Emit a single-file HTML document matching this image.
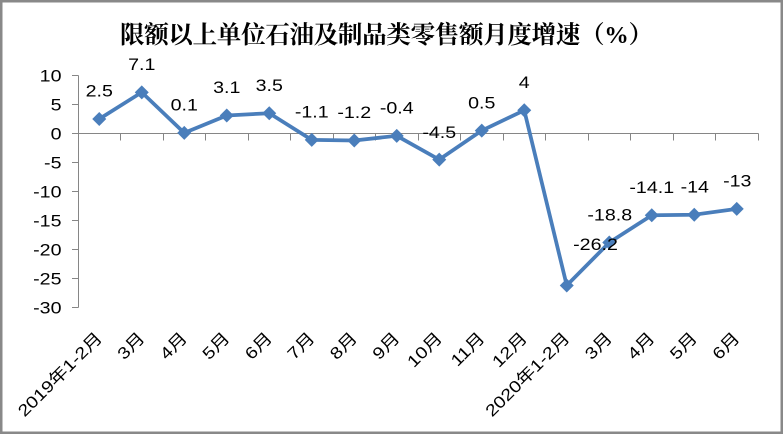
<!DOCTYPE html>
<html>
<head>
<meta charset="utf-8">
<style>
html,body{margin:0;padding:0;background:#fff;}
svg{display:block;}
.t{font-family:"Liberation Serif","Noto Serif CJK SC",serif;font-size:24.5px;font-weight:bold;fill:#000;}
.l{font-family:"Liberation Sans","Noto Sans CJK SC",sans-serif;font-size:16.5px;fill:#000;}
</style>
</head>
<body>
<svg width="783" height="434" viewBox="0 0 783 434" xmlns="http://www.w3.org/2000/svg">
<rect x="0" y="0" width="783" height="434" fill="#fff"/>
<rect x="1.25" y="1.25" width="780.5" height="431.5" fill="none" stroke="#898989" stroke-width="2.5"/>

<text class="t" x="120" y="43" textLength="533" lengthAdjust="spacing">限额以上单位石油及制品类零售额月度增速（%）</text>

<!-- axes -->
<g stroke="#868686" stroke-width="1" fill="none">
<line x1="78.5" y1="75.5" x2="78.5" y2="307.5"/>
<line x1="72" y1="75.5" x2="78.5" y2="75.5"/>
<line x1="72" y1="104.5" x2="78.5" y2="104.5"/>
<line x1="72" y1="133.5" x2="78.5" y2="133.5"/>
<line x1="72" y1="162.5" x2="78.5" y2="162.5"/>
<line x1="72" y1="191.5" x2="78.5" y2="191.5"/>
<line x1="72" y1="220.5" x2="78.5" y2="220.5"/>
<line x1="72" y1="249.5" x2="78.5" y2="249.5"/>
<line x1="72" y1="278.5" x2="78.5" y2="278.5"/>
<line x1="72" y1="307.5" x2="78.5" y2="307.5"/>
<line x1="78" y1="133.5" x2="758.5" y2="133.5"/>
<line x1="78.5" y1="133.5" x2="78.5" y2="140.5"/>
<line x1="120.5" y1="133.5" x2="120.5" y2="140.5"/>
<line x1="163.5" y1="133.5" x2="163.5" y2="140.5"/>
<line x1="205.5" y1="133.5" x2="205.5" y2="140.5"/>
<line x1="248.5" y1="133.5" x2="248.5" y2="140.5"/>
<line x1="290.5" y1="133.5" x2="290.5" y2="140.5"/>
<line x1="333.5" y1="133.5" x2="333.5" y2="140.5"/>
<line x1="375.5" y1="133.5" x2="375.5" y2="140.5"/>
<line x1="418.5" y1="133.5" x2="418.5" y2="140.5"/>
<line x1="460.5" y1="133.5" x2="460.5" y2="140.5"/>
<line x1="503.5" y1="133.5" x2="503.5" y2="140.5"/>
<line x1="545.5" y1="133.5" x2="545.5" y2="140.5"/>
<line x1="588.5" y1="133.5" x2="588.5" y2="140.5"/>
<line x1="630.5" y1="133.5" x2="630.5" y2="140.5"/>
<line x1="673.5" y1="133.5" x2="673.5" y2="140.5"/>
<line x1="715.5" y1="133.5" x2="715.5" y2="140.5"/>
<line x1="758.5" y1="133.5" x2="758.5" y2="140.5"/>
</g>

<!-- y labels -->
<g class="l" text-anchor="end">
<text class="l" transform="translate(61.5,81.5) scale(1.19,1)">10</text>
<text class="l" transform="translate(61.5,110.5) scale(1.19,1)">5</text>
<text class="l" transform="translate(61.5,139.5) scale(1.19,1)">0</text>
<text class="l" transform="translate(61.5,168.5) scale(1.19,1)">-5</text>
<text class="l" transform="translate(61.5,197.5) scale(1.19,1)">-10</text>
<text class="l" transform="translate(61.5,226.5) scale(1.19,1)">-15</text>
<text class="l" transform="translate(61.5,255.5) scale(1.19,1)">-20</text>
<text class="l" transform="translate(61.5,284.5) scale(1.19,1)">-25</text>
<text class="l" transform="translate(61.5,313.5) scale(1.19,1)">-30</text>
</g>

<!-- x labels -->
<g text-anchor="end">
<text class="l" transform="translate(103.25,339) rotate(-45) scale(1.19,1)">2019年1-2月</text>
<text class="l" transform="translate(145.75,339) rotate(-45) scale(1.19,1)">3月</text>
<text class="l" transform="translate(188.25,339) rotate(-45) scale(1.19,1)">4月</text>
<text class="l" transform="translate(230.75,339) rotate(-45) scale(1.19,1)">5月</text>
<text class="l" transform="translate(273.25,339) rotate(-45) scale(1.19,1)">6月</text>
<text class="l" transform="translate(315.75,339) rotate(-45) scale(1.19,1)">7月</text>
<text class="l" transform="translate(358.25,339) rotate(-45) scale(1.19,1)">8月</text>
<text class="l" transform="translate(400.75,339) rotate(-45) scale(1.19,1)">9月</text>
<text class="l" transform="translate(443.25,339) rotate(-45) scale(1.19,1)">10月</text>
<text class="l" transform="translate(485.75,339) rotate(-45) scale(1.19,1)">11月</text>
<text class="l" transform="translate(528.25,339) rotate(-45) scale(1.19,1)">12月</text>
<text class="l" transform="translate(570.75,339) rotate(-45) scale(1.19,1)">2020年1-2月</text>
<text class="l" transform="translate(613.25,339) rotate(-45) scale(1.19,1)">3月</text>
<text class="l" transform="translate(655.75,339) rotate(-45) scale(1.19,1)">4月</text>
<text class="l" transform="translate(698.25,339) rotate(-45) scale(1.19,1)">5月</text>
<text class="l" transform="translate(740.75,339) rotate(-45) scale(1.19,1)">6月</text>
</g>

<!-- series -->
<polyline fill="none" stroke="#4A7EBB" stroke-width="3.75" stroke-linejoin="round" points="99.25,119 141.75,92.32 184.25,132.92 226.75,115.52 269.25,113.2 311.75,139.88 354.25,140.46 396.75,135.82 439.25,159.6 481.75,130.6 524.25,110.3 566.75,285.46 609.25,242.54 651.75,215.28 694.25,214.7 736.75,208.9"/>
<g fill="#4A7EBB">
<path d="M99.25 112 L106.25 119 L99.25 126 L92.25 119 Z"/>
<path d="M141.75 85.32 L148.75 92.32 L141.75 99.32 L134.75 92.32 Z"/>
<path d="M184.25 125.92 L191.25 132.92 L184.25 139.92 L177.25 132.92 Z"/>
<path d="M226.75 108.52 L233.75 115.52 L226.75 122.52 L219.75 115.52 Z"/>
<path d="M269.25 106.2 L276.25 113.2 L269.25 120.2 L262.25 113.2 Z"/>
<path d="M311.75 132.88 L318.75 139.88 L311.75 146.88 L304.75 139.88 Z"/>
<path d="M354.25 133.46 L361.25 140.46 L354.25 147.46 L347.25 140.46 Z"/>
<path d="M396.75 128.82 L403.75 135.82 L396.75 142.82 L389.75 135.82 Z"/>
<path d="M439.25 152.6 L446.25 159.6 L439.25 166.6 L432.25 159.6 Z"/>
<path d="M481.75 123.6 L488.75 130.6 L481.75 137.6 L474.75 130.6 Z"/>
<path d="M524.25 103.3 L531.25 110.3 L524.25 117.3 L517.25 110.3 Z"/>
<path d="M566.75 278.46 L573.75 285.46 L566.75 292.46 L559.75 285.46 Z"/>
<path d="M609.25 235.54 L616.25 242.54 L609.25 249.54 L602.25 242.54 Z"/>
<path d="M651.75 208.28 L658.75 215.28 L651.75 222.28 L644.75 215.28 Z"/>
<path d="M694.25 207.7 L701.25 214.7 L694.25 221.7 L687.25 214.7 Z"/>
<path d="M736.75 201.9 L743.75 208.9 L736.75 215.9 L729.75 208.9 Z"/>
</g>

<!-- data labels -->
<g text-anchor="middle">
<text class="l" transform="translate(99.25,96.7) scale(1.19,1)">2.5</text>
<text class="l" transform="translate(141.75,70) scale(1.19,1)">7.1</text>
<text class="l" transform="translate(184.25,110.6) scale(1.19,1)">0.1</text>
<text class="l" transform="translate(226.75,93.2) scale(1.19,1)">3.1</text>
<text class="l" transform="translate(269.25,90.9) scale(1.19,1)">3.5</text>
<text class="l" transform="translate(311.75,117.5) scale(1.19,1)">-1.1</text>
<text class="l" transform="translate(354.25,118.1) scale(1.19,1)">-1.2</text>
<text class="l" transform="translate(396.75,113.5) scale(1.19,1)">-0.4</text>
<text class="l" transform="translate(439.25,137.8) scale(1.19,1)">-4.5</text>
<text class="l" transform="translate(481.75,108.3) scale(1.19,1)">0.5</text>
<text class="l" transform="translate(524.25,87.8) scale(1.19,1)">4</text>
<text class="l" transform="translate(595.5,250) scale(1.19,1)">-26.2</text>
<text class="l" transform="translate(609.75,220.5) scale(1.19,1)">-18.8</text>
<text class="l" transform="translate(651.75,193) scale(1.19,1)">-14.1</text>
<text class="l" transform="translate(694.75,192.3) scale(1.19,1)">-14</text>
<text class="l" transform="translate(737.25,186.6) scale(1.19,1)">-13</text>
</g>
</svg>
</body>
</html>
